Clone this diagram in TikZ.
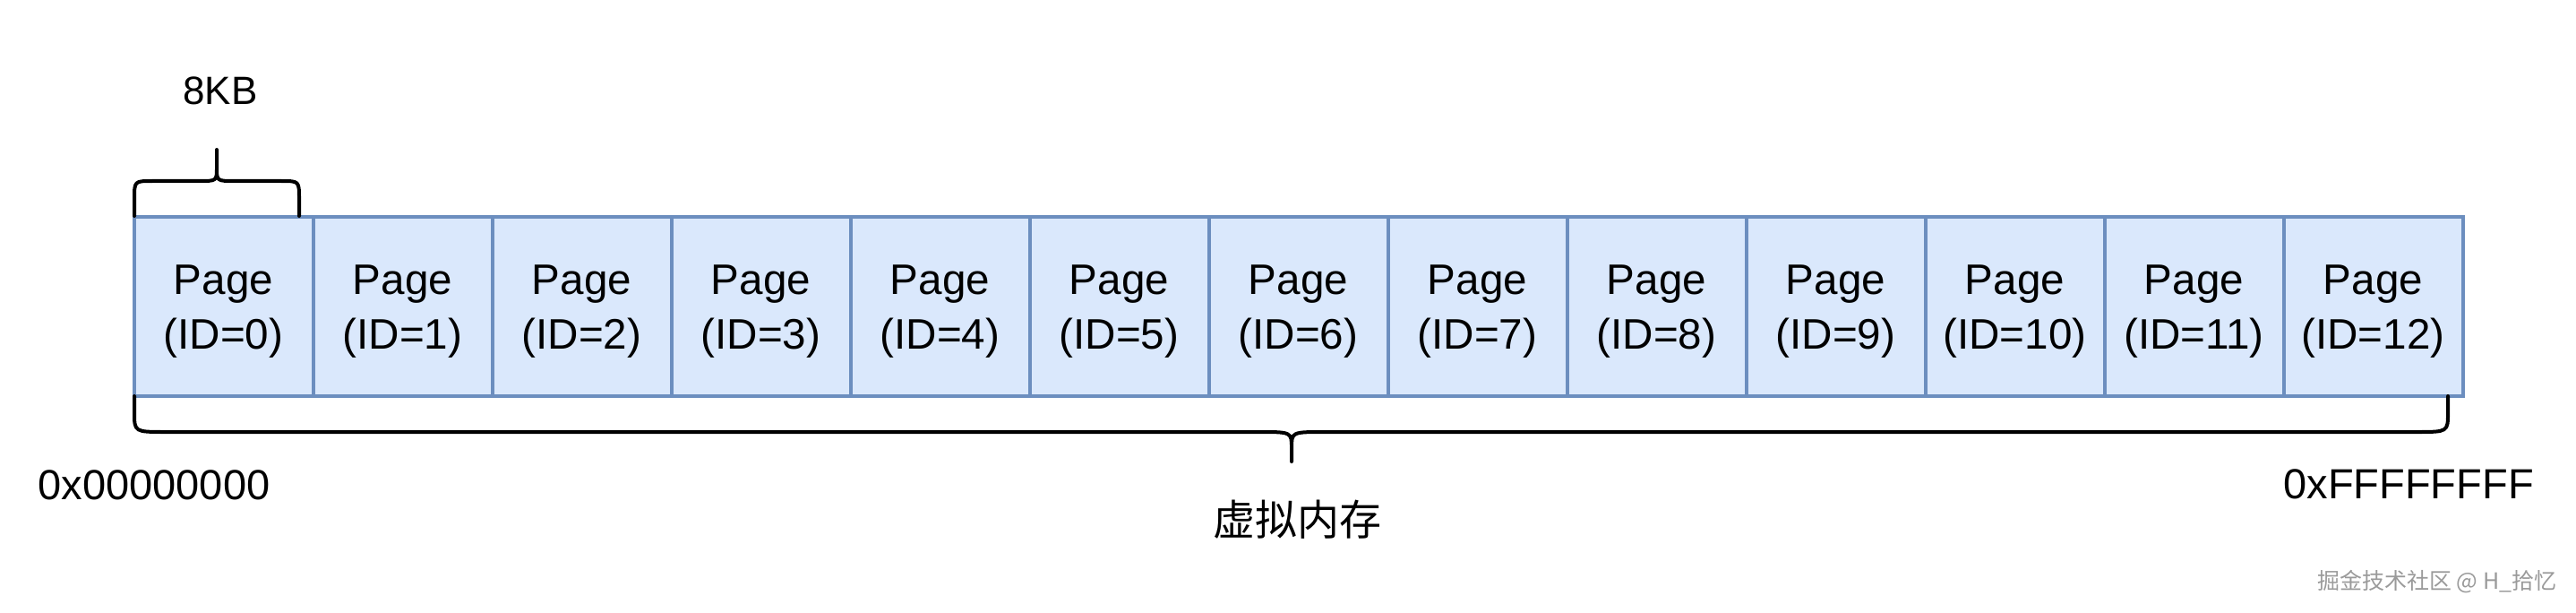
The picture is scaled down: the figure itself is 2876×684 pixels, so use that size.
\documentclass[tikz,border=0pt]{standalone}
\usepackage{fontspec}
\setmainfont{Liberation Sans}
\newfontfamily\cjk{Noto Sans CJK SC}
\definecolor{pagefill}{HTML}{DAE8FC}
\definecolor{pageline}{HTML}{6C8EBF}
\definecolor{wmgray}{HTML}{9A9A9A}
\begin{document}
\begin{tikzpicture}[x=0.25pt,y=-0.25pt,
  pagebox/.style={draw=pageline, fill=pagefill, line width=1pt,
    minimum width=50pt, minimum height=50pt, inner sep=0pt},
  pagetext/.style={inner sep=0pt, align=center,
    font=\fontsize{11.9}{15.3}\selectfont},
  brace/.style={draw=black, line width=1pt, line cap=round, line join=round},
  lbl/.style={font=\fontsize{11.75}{15}\selectfont, inner sep=0pt}]
\useasboundingbox (0,0) rectangle (2876,684);
\foreach \i in {0,...,12}{
  \node[pagebox] (p\i) at ({249.5+200*\i},341.5) {};
  \node[pagetext] (t\i) at ([yshift=-1.5pt]p\i.center) {Page\\(ID=\i)};
}
% top brace over page 0
\draw[brace] (150,241) -- (150,222) .. controls (150,202) .. (170,202)
  -- (222,202) .. controls (242,202) .. (242,187) -- (242,167)
  -- (242,187) .. controls (242,202) .. (262,202)
  -- (314,202) .. controls (334,202) .. (334,222) -- (334,241);
% bottom brace under all pages
\draw[brace] (150,442) -- (150,460) .. controls (150,482) .. (185,482)
  -- (1405,482) .. controls (1442,482) .. (1442,500) -- (1442,515)
  -- (1442,500) .. controls (1442,482) .. (1479,482)
  -- (2698,482) .. controls (2733,482) .. (2733,460) -- (2733,442);
\node[lbl, font=\fontsize{11}{14}\selectfont] (kb) at (246,101) {8KB};
\node[lbl] (lo) at (172,541) {0x00000000};
\node[lbl] (hi) at (2689,540) {0xFFFFFFFF};
\node[lbl, font=\cjk\fontsize{11.75}{15}\selectfont] (vm) at (1448,580) {虚拟内存};
\node[anchor=east, inner sep=0pt, text=wmgray, font=\cjk\fontsize{6.25}{8}\selectfont] (wm) at (2855,649) {掘金技术社区 @ H\_拾忆};
\end{tikzpicture}
\end{document}
